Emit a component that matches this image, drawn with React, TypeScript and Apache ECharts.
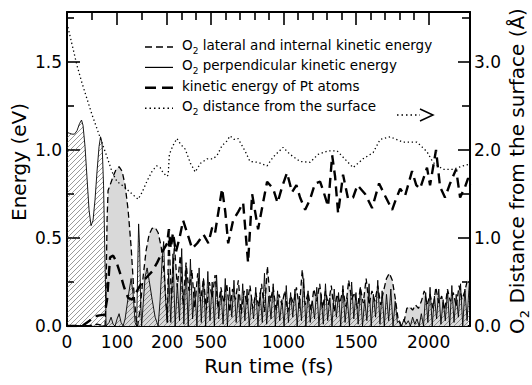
import React, { useEffect, useRef } from "react";
import * as echarts from "echarts";

// ---------- axis break (0-200 fs full scale, beyond compressed) ----------
const BREAK_T = 200;
const COMPRESS = 0.29;
const T_MAX = 2285;
const toU = (t: number) => (t <= BREAK_T ? t : BREAK_T + (t - BREAK_T) * COMPRESS);
const fromU = (u: number) => (u <= BREAK_T ? u : BREAK_T + (u - BREAK_T) / COMPRESS);
const U_MAX = toU(T_MAX);

// ---------- ticks ----------
const X_LABELS = [0, 100, 200, 500, 1000, 1500, 2000];
const X_MAJOR = [0, 100, 200, 500, 1000, 1500, 2000];
const X_MINOR = [50, 150, 300, 400, 600, 700, 800, 900, 1100, 1200, 1300, 1400, 1600, 1700, 1800, 1900];
const E_MAX = 1.784;
const D_MAX = 3.568;
const Y_LEFT_MAJOR = [0, 0.5, 1.0, 1.5];
const Y_LEFT_MINOR = [0.25, 0.75, 1.25, 1.75];
const Y_RIGHT_MAJOR = [0, 1, 2, 3];
const Y_RIGHT_MINOR = [0.5, 1.5, 2.5, 3.5];

// ---------- O2 perpendicular kinetic energy (eV) ----------
const PERP_EARLY_T = [0, 5, 10, 15, 20, 25, 29, 32, 36, 40, 44, 48, 52, 56, 60, 64, 67, 70, 73, 75, 77, 78, 84, 88, 92, 96, 100, 104, 108, 112, 116, 120, 124, 128, 132, 136, 139, 141, 143, 145, 147, 149, 152, 156, 160, 164, 170, 176, 182, 186, 190, 193, 196, 200];
const PERP_EARLY_E = [1.10, 1.095, 1.09, 1.09, 1.11, 1.15, 1.17, 1.14, 1.02, 0.84, 0.66, 0.57, 0.6, 0.72, 0.88, 1.02, 1.075, 1.04, 0.8, 0.5, 0.2, 0.0, 0.02, 0.05, 0.01, 0.0, 0.04, 0.07, 0.02, 0.0, 0.04, 0.12, 0.2, 0.27, 0.18, 0.02, 0.0, 0.3, 0.58, 0.45, 0.15, 0.0, 0.12, 0.28, 0.33, 0.26, 0.15, 0.05, 0.0, 0.15, 0.38, 0.48, 0.2, 0.02];
const PERP_NOISE_START = 210;
const PERP_NOISE_STEP = 15;
const PERP_NOISE_E = [
  0.30, 0.02, 0.41, 0.0, 0.24, 0.03, 0.44, 0.01, 0.34, 0.0, 0.38, 0.04, 0.22, 0.0, 0.33, 0.02, 0.27, 0.0, 0.31, 0.03,
  0.25, 0.0, 0.29, 0.04, 0.2, 0.01, 0.27, 0.0, 0.22, 0.05, 0.26, 0.02, 0.18, 0.0, 0.24, 0.03, 0.21, 0.0, 0.16, 0.04,
  0.22, 0.0, 0.19, 0.02, 0.3, 0.01, 0.17, 0.04, 0.24, 0.0, 0.2, 0.03, 0.15, 0.0, 0.23, 0.02, 0.19, 0.05, 0.21, 0.0,
  0.17, 0.03, 0.27, 0.0, 0.2, 0.02, 0.14, 0.04, 0.22, 0.0, 0.18, 0.01, 0.24, 0.03, 0.16, 0.0, 0.21, 0.05, 0.19, 0.0,
  0.23, 0.02, 0.16, 0.0, 0.25, 0.04, 0.19, 0.01, 0.22, 0.0, 0.15, 0.03, 0.24, 0.0, 0.18, 0.05, 0.26, 0.01, 0.2, 0.0,
  0.18, 0.03, 0.21, 0.0, 0.14, 0.02, 0.03, 0.0, 0.04, 0.01, 0.03, 0.0, 0.05, 0.01, 0.04, 0.0, 0.07, 0.0, 0.19, 0.02,
  0.22, 0.0, 0.17, 0.04, 0.21, 0.01, 0.15, 0.03, 0.2, 0.0, 0.23, 0.02, 0.18, 0.05, 0.24, 0.0, 0.21, 0.03, 0.25,
];

// ---------- O2 lateral and internal kinetic energy (eV) ----------
const LAT_EARLY_T = [0, 40, 60, 76, 78, 80, 82, 86, 92, 98, 104, 110, 116, 122, 128, 133, 138, 141, 146, 152, 158, 164, 170, 176, 182, 188, 194, 198, 202];
const LAT_EARLY_E = [0, 0, 0.01, 0, 0.2, 0.6, 0.77, 0.8, 0.85, 0.89, 0.905, 0.88, 0.8, 0.66, 0.45, 0.22, 0.04, 0, 0.1, 0.28, 0.43, 0.52, 0.555, 0.56, 0.53, 0.45, 0.3, 0.12, 0.02];
const LAT_NOISE_START = 210;
const LAT_NOISE_STEP = 20;
const LAT_NOISE_E = [
  0.55, 0.15, 0.46, 0.22, 0.4, 0.12, 0.36, 0.2, 0.32, 0.1,
  0.3, 0.14, 0.27, 0.09, 0.25, 0.16, 0.29, 0.1, 0.22, 0.13,
  0.24, 0.08, 0.21, 0.15, 0.26, 0.07, 0.2, 0.12, 0.23, 0.1,
  0.19, 0.11, 0.24, 0.08, 0.34, 0.14, 0.22, 0.09, 0.18, 0.12,
  0.2, 0.08, 0.17, 0.13, 0.22, 0.1, 0.32, 0.12, 0.19, 0.09,
  0.21, 0.14, 0.24, 0.1, 0.2, 0.12, 0.23, 0.08, 0.18, 0.13,
  0.21, 0.11, 0.26, 0.15, 0.19, 0.1, 0.22, 0.13, 0.27, 0.12,
  0.2, 0.14, 0.23, 0.12, 0.2, 0.27, 0.3, 0.26, 0.16, 0.04,
  0.0, 0.02, 0.1, 0.11, 0.09, 0.12, 0.1, 0.14, 0.2, 0.12,
  0.18, 0.1, 0.22, 0.13, 0.17, 0.09, 0.21, 0.14, 0.19, 0.11,
  0.23, 0.15, 0.2, 0.27,
];

// ---------- kinetic energy of Pt atoms (eV) ----------
const PT_T = [0, 30, 45, 55, 65, 75, 80, 86, 92, 98, 106, 114, 122, 130, 140, 150, 160, 170, 180, 190, 200, 212, 225, 240, 260, 285, 310, 345, 372, 407, 450, 484, 510, 530, 578, 600, 620, 654, 690, 723, 757, 785, 826, 860, 888, 930, 960, 991, 1025, 1060, 1090, 1115, 1150, 1184, 1218, 1253, 1274, 1308, 1336, 1356, 1377, 1411, 1446, 1480, 1510, 1542, 1563, 1611, 1659, 1700, 1749, 1775, 1804, 1838, 1886, 1915, 1941, 1989, 2010, 2051, 2079, 2113, 2148, 2189, 2217, 2251, 2272, 2285];
const PT_E = [0, 0, 0.03, 0.055, 0.06, 0.065, 0.15, 0.39, 0.4, 0.37, 0.3, 0.22, 0.16, 0.15, 0.2, 0.25, 0.28, 0.31, 0.36, 0.42, 0.47, 0.55, 0.44, 0.53, 0.42, 0.5, 0.6, 0.51, 0.44, 0.47, 0.52, 0.47, 0.56, 0.53, 0.78, 0.65, 0.47, 0.6, 0.65, 0.7, 0.36, 0.75, 0.55, 0.7, 0.82, 0.78, 0.7, 0.79, 0.87, 0.76, 0.8, 0.73, 0.66, 0.72, 0.81, 0.82, 0.77, 0.68, 0.97, 0.85, 0.64, 0.86, 0.72, 0.73, 0.8, 0.77, 0.75, 0.67, 0.81, 0.74, 0.66, 0.72, 0.78, 0.74, 0.88, 0.8, 0.78, 0.9, 0.8, 1.0, 0.79, 0.73, 0.81, 0.89, 0.73, 0.79, 0.84, 0.8];

// ---------- O2 distance from the surface (Å) ----------
const DIST_T = [0, 10, 20, 30, 40, 50, 60, 70, 80, 90, 100, 110, 120, 130, 142, 150, 160, 170, 179, 186, 192, 200, 207, 215, 240, 267, 295, 324, 360, 393, 430, 475, 517, 544, 578, 610, 633, 660, 688, 736, 770, 825, 888, 930, 998, 1046, 1115, 1184, 1239, 1308, 1370, 1439, 1480, 1549, 1618, 1666, 1735, 1824, 1920, 1989, 2030, 2099, 2168, 2237, 2285];
const DIST_A = [3.44, 3.2, 2.96, 2.76, 2.58, 2.4, 2.24, 2.08, 1.92, 1.75, 1.64, 1.6, 1.55, 1.5, 1.44, 1.52, 1.65, 1.76, 1.82, 1.8, 1.74, 1.7, 1.72, 1.95, 2.05, 2.13, 2.06, 2.01, 1.85, 1.75, 1.85, 1.9, 1.9, 1.94, 2.05, 2.1, 2.16, 2.12, 2.13, 1.99, 1.87, 1.86, 1.82, 1.92, 2.03, 1.95, 1.87, 1.86, 1.95, 1.99, 1.99, 1.87, 1.8, 1.9, 1.97, 2.12, 2.15, 2.09, 2.09, 1.98, 1.86, 1.78, 1.78, 1.82, 1.84];

// ---------- legend ----------
const LEGEND_ITEMS = [
  { text: "O{s|2} lateral and internal kinetic energy", dash: [7, 4] as number[] | null, width: 1.3 },
  { text: "O{s|2} perpendicular kinetic energy", dash: null, width: 1.2 },
  { text: "kinetic energy of Pt atoms", dash: [11, 6], width: 2.5 },
  { text: "O{s|2} distance from the surface", dash: [1.5, 3], width: 1.5 },
];

const FONT = '"DejaVu Sans", "Liberation Sans", sans-serif';

const pairs = (ts: number[], vs: number[]) => ts.map((t, i) => [toU(t), vs[i]]);
const stepPairs = (start: number, step: number, vs: number[]) => vs.map((v, i) => [toU(start + i * step), v]);

export default function App() {
  const ref = useRef<HTMLDivElement>(null);
  useEffect(() => {
    if (!ref.current) return;
    const chart = echarts.init(ref.current, null, { renderer: "svg" });

    const S = 5;
    const cv = document.createElement("canvas");
    cv.width = S;
    cv.height = S;
    const ctx = cv.getContext("2d");
    if (ctx) {
      ctx.strokeStyle = "#555";
      ctx.lineWidth = 0.6;
      ctx.beginPath();
      ctx.moveTo(0, S); ctx.lineTo(S, 0);
      ctx.moveTo(-1, 1); ctx.lineTo(1, -1);
      ctx.moveTo(S - 1, S + 1); ctx.lineTo(S + 1, S - 1);
      ctx.stroke();
    }
    const hatch: any = { image: cv, repeat: "repeat", imageWidth: S, imageHeight: S };

    const perpData = pairs(PERP_EARLY_T, PERP_EARLY_E).concat(stepPairs(PERP_NOISE_START, PERP_NOISE_STEP, PERP_NOISE_E));
    const latData = pairs(LAT_EARLY_T, LAT_EARLY_E).concat(stepPairs(LAT_NOISE_START, LAT_NOISE_STEP, LAT_NOISE_E));
    const ptData = pairs(PT_T, PT_E);
    const distData = pairs(DIST_T, DIST_A);

    const axisLineStyle = { color: "#000", width: 2 };
    const tickStyle = { color: "#000", width: 1.6 };
    const labelStyle = { color: "#000", fontSize: 17, fontFamily: FONT };

    const xBase = { type: "value", min: 0, max: U_MAX, splitLine: { show: false } };
    const yLeft = { type: "value", min: 0, max: E_MAX, position: "left", splitLine: { show: false } };
    const yRight = { type: "value", min: 0, max: D_MAX, position: "right", splitLine: { show: false } };

    const legendGraphics: any[] = [];
    LEGEND_ITEMS.forEach((it, i) => {
      const ty = 45 + i * 20.4;
      const ly = 47 + i * 20.4;
      legendGraphics.push({
        type: "line",
        shape: { x1: 145, y1: ly, x2: 173, y2: ly },
        style: { stroke: "#000", lineWidth: it.width, lineDash: it.dash || undefined },
      });
      legendGraphics.push({
        type: "text",
        x: 182,
        y: ty,
        style: {
          text: it.text,
          fill: "#000",
          fontSize: 13.5,
          fontFamily: FONT,
          verticalAlign: "middle",
          lineHeight: 20,
          rich: { s: { fontSize: 9, fontFamily: FONT, verticalAlign: "bottom", lineHeight: 20 } },
        },
      });
    });

    const option: any = {
      animation: false,
      grid: { left: 67, right: 62, top: 12, bottom: 59 },
      xAxis: [
        {
          ...xBase,
          position: "bottom",
          axisLine: { show: true, onZero: false, lineStyle: axisLineStyle },
          axisTick: { show: false },
          axisLabel: {
            ...labelStyle,
            margin: 7,
            customValues: X_LABELS.map(toU),
            formatter: (v: number) => String(Math.round(fromU(v))),
          },
        },
        {
          ...xBase,
          position: "top",
          axisLine: { show: true, onZero: false, lineStyle: axisLineStyle },
          axisTick: { show: true, inside: true, length: 13, customValues: X_MAJOR.map(toU), lineStyle: tickStyle },
          axisLabel: { show: false },
        },
        {
          ...xBase,
          position: "top",
          axisLine: { show: false, onZero: false },
          axisTick: { show: true, inside: true, length: 8, customValues: X_MINOR.map(toU), lineStyle: tickStyle },
          axisLabel: { show: false },
        },
      ],
      yAxis: [
        {
          ...yLeft,
          axisLine: { show: true, onZero: false, lineStyle: axisLineStyle },
          axisTick: { show: true, inside: true, length: 13, customValues: Y_LEFT_MAJOR, lineStyle: tickStyle },
          axisLabel: { ...labelStyle, margin: 5, customValues: Y_LEFT_MAJOR, formatter: (v: number) => v.toFixed(1) },
        },
        {
          ...yLeft,
          axisLine: { show: false, onZero: false },
          axisTick: { show: true, inside: true, length: 7, customValues: Y_LEFT_MINOR, lineStyle: tickStyle },
          axisLabel: { show: false },
        },
        {
          ...yRight,
          axisLine: { show: true, onZero: false, lineStyle: axisLineStyle },
          axisTick: { show: true, inside: true, length: 12, customValues: Y_RIGHT_MAJOR, lineStyle: tickStyle },
          axisLabel: { ...labelStyle, margin: 4, customValues: Y_RIGHT_MAJOR, formatter: (v: number) => v.toFixed(1) },
        },
        {
          ...yRight,
          axisLine: { show: false, onZero: false },
          axisTick: { show: true, inside: true, length: 8, customValues: Y_RIGHT_MINOR, lineStyle: tickStyle },
          axisLabel: { show: false },
        },
      ],
      series: [
        {
          type: "line", xAxisIndex: 0, yAxisIndex: 0, data: latData, symbol: "none", silent: true, z: 1,
          lineStyle: { width: 0, opacity: 0 }, areaStyle: { color: "#d9d9d9", opacity: 1 },
        },
        {
          type: "line", xAxisIndex: 0, yAxisIndex: 0, data: perpData, symbol: "none", silent: true, z: 2,
          lineStyle: { width: 0, opacity: 0 }, areaStyle: { color: hatch, opacity: 1 },
        },
        {
          type: "line", xAxisIndex: 0, yAxisIndex: 0, data: latData, symbol: "none", silent: true, z: 3,
          lineStyle: { color: "#000", width: 1.3, type: [6, 3.5] },
        },
        {
          type: "line", xAxisIndex: 0, yAxisIndex: 0, data: perpData, symbol: "none", silent: true, z: 4,
          lineStyle: { color: "#000", width: 0.9 },
        },
        {
          type: "line", xAxisIndex: 0, yAxisIndex: 0, data: ptData, symbol: "none", silent: true, z: 5,
          lineStyle: { color: "#000", width: 2.4, type: [10, 6] },
        },
        {
          type: "line", xAxisIndex: 0, yAxisIndex: 2, data: distData, symbol: "none", silent: true, z: 5,
          lineStyle: { color: "#000", width: 1.3, type: [1.3, 2.7] },
        },
      ],
      graphic: [
        ...legendGraphics,
        {
          type: "line",
          shape: { x1: 397, y1: 115, x2: 420, y2: 115 },
          style: { stroke: "#000", lineWidth: 1.5, lineDash: [1.5, 3] },
        },
        {
          type: "polyline",
          shape: { points: [[420, 109], [433, 115], [420, 121]] },
          style: { stroke: "#000", lineWidth: 1.5, fill: "none" },
        },
        {
          type: "text", x: 19, y: 162, rotation: Math.PI / 2,
          style: { text: "Energy (eV)", fill: "#000", fontSize: 20, fontFamily: FONT, align: "center", verticalAlign: "middle" },
        },
        {
          type: "text", x: 517, y: 171, rotation: Math.PI / 2,
          style: {
            text: "O{s|2} Distance from the surface (Å)", fill: "#000", fontSize: 20, fontFamily: FONT,
            align: "center", verticalAlign: "middle", lineHeight: 28,
            rich: { s: { fontSize: 13, fontFamily: FONT, verticalAlign: "bottom", lineHeight: 28 } },
          },
        },
        {
          type: "text", x: 269, y: 366,
          style: { text: "Run time (fs)", fill: "#000", fontSize: 20, fontFamily: FONT, align: "center", verticalAlign: "middle" },
        },
      ],
    };

    chart.setOption(option);
    return () => chart.dispose();
  }, []);

  return <div ref={ref} style={{ position: "absolute", left: 0, top: 0, width: 532, height: 385 }} />;
}
